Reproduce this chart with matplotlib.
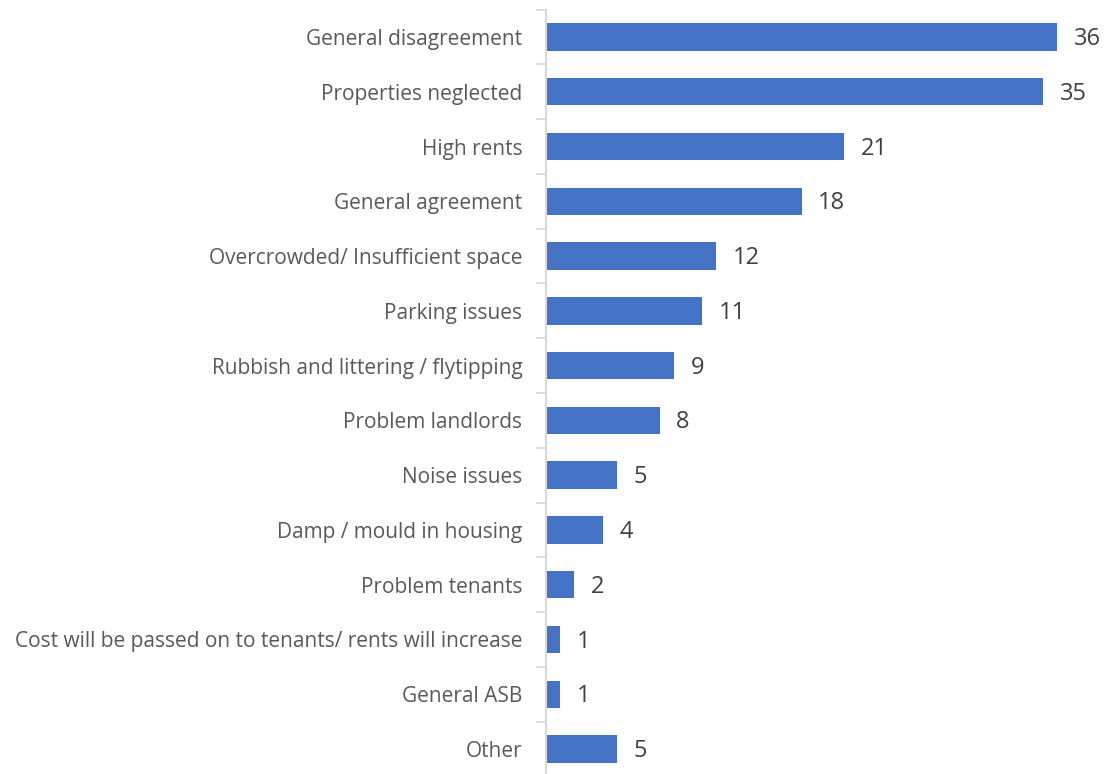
import matplotlib.pyplot as plt

categories = [
    "General disagreement",
    "Properties neglected",
    "High rents",
    "General agreement",
    "Overcrowded/ Insufficient space",
    "Parking issues",
    "Rubbish and littering / flytipping",
    "Problem landlords",
    "Noise issues",
    "Damp / mould in housing",
    "Problem tenants",
    "Cost will be passed on to tenants/ rents will increase",
    "General ASB",
    "Other",
]
counts = [36, 35, 21, 18, 12, 11, 9, 8, 5, 4, 2, 1, 1, 5]

bar_color = "#4472C4"
axis_color = "#D9D9D9"

plt.rcParams["font.family"] = ["Open Sans", "DejaVu Sans"]

fig = plt.figure(figsize=(11.09, 7.74), dpi=100)
ax = fig.add_axes([546 / 1109, -2.4 / 774, (1109 - 546) / 1109, 766.8 / 774])

y = list(range(len(categories)))
ax.barh(y, counts, height=0.5, color=bar_color)

ax.set_ylim(len(categories) - 0.5, -0.5)
ax.set_xlim(0, (1109 - 546) / 14.2)

ax.set_yticks(y)
ax.set_yticklabels(categories, fontsize=15, color="#595959")
ax.tick_params(axis="y", length=0, pad=17)
ax.set_yticks([i + 0.5 for i in range(-1, len(categories))], minor=True)
ax.tick_params(axis="y", which="minor", length=7, width=1.2, color=axis_color)
ax.set_xticks([])

for side in ("top", "right", "bottom"):
    ax.spines[side].set_visible(False)
ax.spines["left"].set_color(axis_color)
ax.spines["left"].set_linewidth(1.5)

for yi, v in zip(y, counts):
    ax.annotate(str(v), (v, yi), xytext=(12, -1.5), textcoords="offset points",
                ha="left", va="center", fontsize=17, color="#404040")

fig.savefig("out.png", dpi=100)
